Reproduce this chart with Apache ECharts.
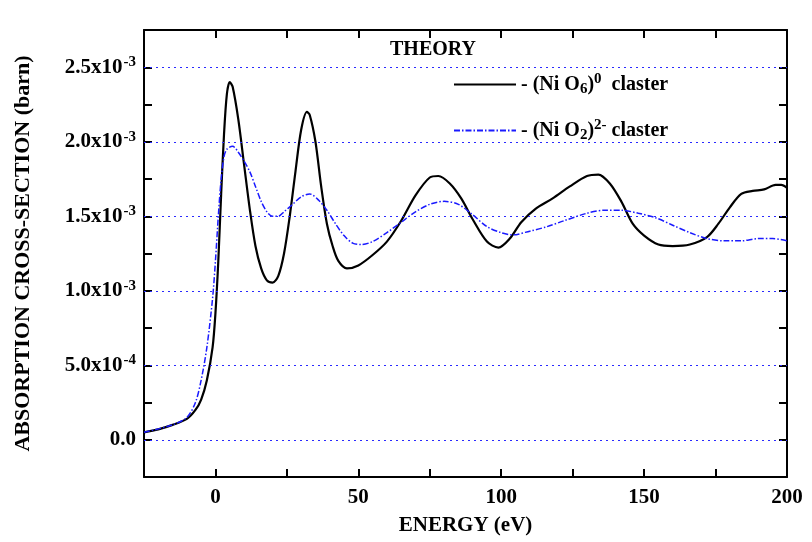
<!DOCTYPE html>
<html><head><meta charset="utf-8">
<script src="https://cdn.jsdelivr.net/npm/echarts@6/dist/echarts.min.js"></script>
<style>html,body{margin:0;padding:0;background:#fff}#c{width:812px;height:542px}</style>
</head><body><div id="c"></div>
<script>
// x: energy (eV); y: absorption cross-section in units of 1e-3 barn
const energyNiO6 = [-25,-20,-15,-10,-7,-5,-3,-1,0,1,2,3,4,5,6,8,10,12,14,16,18,20,22,24,26,28,30,32,33,35,37,39,41,43,46,50,55,60,65,70,75,78,82,86,90,95,99,103,107,112,118,124,130,134,138,142,146,150,155,160,166,172,176,180,184,188,192,196,198,200];
const valuesNiO6 = [0.05,0.07,0.10,0.14,0.20,0.27,0.40,0.62,0.85,1.2,1.65,2.05,2.32,2.40,2.37,2.15,1.85,1.55,1.30,1.15,1.07,1.055,1.10,1.25,1.50,1.80,2.08,2.20,2.18,2.00,1.70,1.45,1.30,1.20,1.15,1.17,1.24,1.33,1.47,1.64,1.76,1.77,1.72,1.62,1.48,1.33,1.29,1.35,1.46,1.55,1.62,1.70,1.77,1.78,1.72,1.60,1.45,1.37,1.31,1.30,1.31,1.36,1.45,1.56,1.65,1.67,1.68,1.71,1.71,1.69];
const energyNiO2 = [-25,-15,-10,-7,-5,-3,-1,0,1,2,3,4,6,8,10,12,14,16,18,20,22,24,27,30,33,36,39,42,45,48,51,55,60,65,70,75,80,85,90,95,100,104,110,116,122,130,136,142,148,154,160,166,172,178,184,190,195,200];
const valuesNiO2 = [0.05,0.10,0.15,0.25,0.40,0.62,0.95,1.2,1.5,1.75,1.90,1.95,1.97,1.93,1.87,1.80,1.70,1.60,1.53,1.50,1.50,1.53,1.58,1.63,1.65,1.61,1.54,1.45,1.37,1.32,1.31,1.33,1.39,1.46,1.53,1.58,1.60,1.58,1.51,1.43,1.39,1.375,1.40,1.43,1.47,1.52,1.54,1.54,1.52,1.49,1.44,1.39,1.35,1.335,1.335,1.35,1.35,1.335];
const xTickValues = [0,50,100,150,200];
const yTickValues = [0,0.5,1.0,1.5,2.0,2.5];
const yTickLabels = [['0.0',''],['5.0x10','-4'],['1.0x10','-3'],['1.5x10','-3'],['2.0x10','-3'],['2.5x10','-3']];
const seriesNames = ['NiO6','NiO2'];

const font = '"Liberation Serif","Times New Roman",serif';
const chart = echarts.init(document.getElementById('c'));
const zip = (xs, ys) => xs.map((x,i)=>[x, ys[i]]);
const near = (a,b)=>Math.abs(a-b)<1e-6;

chart.setOption({
  animation:false,
  grid:{left:144,right:25,top:30,bottom:65},
  xAxis:[{
    type:'value',min:-25,max:200,interval:25,position:'bottom',
    axisLine:{show:true,onZero:false,lineStyle:{color:'#000',width:2}},
    axisTick:{inside:true,length:8,lineStyle:{color:'#000',width:2}},
    splitLine:{show:false},
    axisLabel:{margin:10,color:'#000',fontFamily:font,fontWeight:'bold',fontSize:21,
      formatter:v=>xTickValues.some(t=>near(t,v))?String(v):''},
    name:'ENERGY (eV)',nameLocation:'middle',nameGap:38,
    nameTextStyle:{color:'#000',fontFamily:font,fontWeight:'bold',fontSize:21}
  },{
    type:'value',min:-25,max:200,interval:25,position:'top',
    axisLine:{show:true,onZero:false,lineStyle:{color:'#000',width:2}},
    axisTick:{inside:true,length:8,lineStyle:{color:'#000',width:2}},
    axisLabel:{show:false},splitLine:{show:false}
  }],
  yAxis:[{
    type:'value',min:-0.25,max:2.75,interval:0.25,position:'left',
    axisLine:{show:true,onZero:false,lineStyle:{color:'#000',width:2}},
    axisTick:{inside:true,length:8,lineStyle:{color:'#000',width:2}},
    splitLine:{show:false},
    axisLabel:{margin:8,color:'#000',fontFamily:font,fontWeight:'bold',fontSize:21,
      formatter:v=>{
        const i=yTickValues.findIndex(t=>near(t,v));
        if(i<0) return '';
        const l=yTickLabels[i];
        return l[1]?'{m|'+l[0]+'}{e|'+l[1]+'}':'{m|'+l[0]+'}';
      },
      rich:{m:{fontFamily:font,fontWeight:'bold',fontSize:21,color:'#000'},
            e:{fontFamily:font,fontWeight:'bold',fontSize:15,color:'#000',verticalAlign:'top',padding:[0,0,10,1]}}
    },
    name:'ABSORPTION CROSS-SECTION (barn)',nameLocation:'middle',nameGap:110,nameRotate:90,
    nameTextStyle:{color:'#000',fontFamily:font,fontWeight:'bold',fontSize:22}
  },{
    type:'value',min:-0.25,max:2.75,interval:0.25,position:'right',
    axisLine:{show:true,onZero:false,lineStyle:{color:'#000',width:2}},
    axisTick:{inside:true,length:8,lineStyle:{color:'#000',width:2}},
    axisLabel:{show:false},splitLine:{show:false}
  }],
  legend:{
    orient:'vertical',left:448,top:67,itemWidth:62,itemHeight:14,itemGap:21,
    data:seriesNames,
    itemStyle:{color:'transparent',borderColor:'transparent',borderWidth:0},
    formatter:n=>n==='NiO6'?'{t|- (Ni O}{sub|6}{t|)}{sup|0}{t|  claster}':'{t|- (Ni O}{sub|2}{t|)}{sup|2-}{t| claster}',
    textStyle:{color:'#000',fontFamily:font,fontWeight:'bold',fontSize:20,
      rich:{t:{fontFamily:font,fontWeight:'bold',fontSize:20,color:'#000'},
            sub:{fontFamily:font,fontWeight:'bold',fontSize:15,color:'#000',verticalAlign:'bottom',padding:[10,0,0,0]},
            sup:{fontFamily:font,fontWeight:'bold',fontSize:15,color:'#000',verticalAlign:'top',padding:[0,0,10,0]}}}
  },
  graphic:[{type:'text',left:390,top:40,style:{text:'THEORY',font:'bold 20px '+font,fill:'#000'}}],
  series:[{
    name:'NiO6',type:'line',xAxisIndex:0,yAxisIndex:0,showSymbol:false,symbol:'none',smooth:0.3,
    data:zip(energyNiO6,valuesNiO6),
    lineStyle:{color:'#000',width:2.2},itemStyle:{color:'#000'},z:3,
    markLine:{silent:true,symbol:'none',label:{show:false},
      lineStyle:{color:'#2a2aff',type:[2,4],width:1.2},
      data:yTickValues.map(v=>({yAxis:v}))}
  },{
    name:'NiO2',type:'line',xAxisIndex:0,yAxisIndex:0,showSymbol:false,symbol:'none',smooth:0.3,
    data:zip(energyNiO2,valuesNiO2),
    lineStyle:{color:'#1a1aff',width:1.5,type:[6,2,1.5,2]},itemStyle:{color:'#1a1aff'},z:4
  }]
});
</script></body></html>
